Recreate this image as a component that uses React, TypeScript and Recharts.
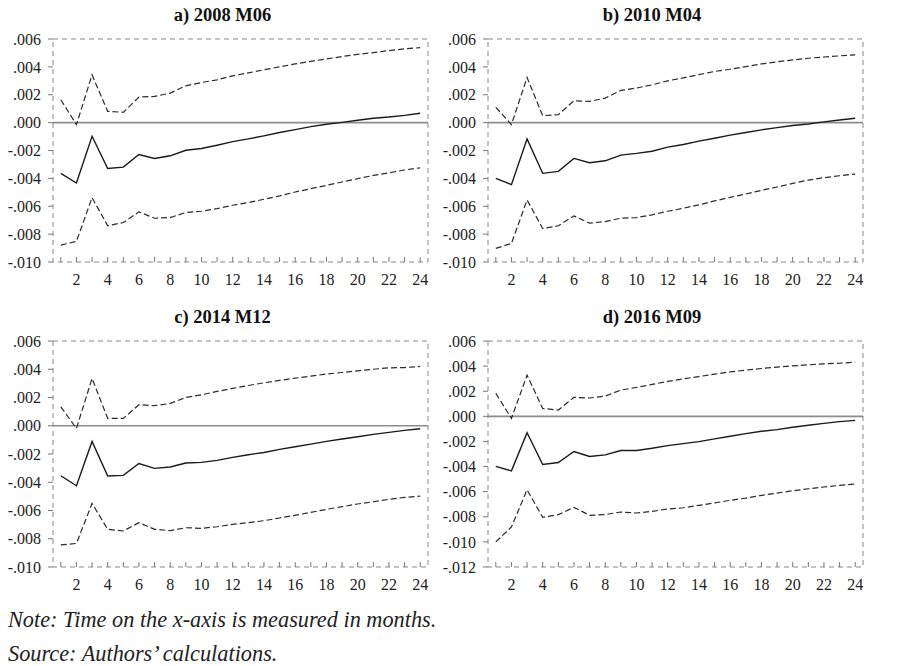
import React from 'react';
import { LineChart, Line, XAxis, YAxis, ReferenceLine, ReferenceArea } from 'recharts';

const months = [1, 2, 3, 4, 5, 6, 7, 8, 9, 10, 11, 12, 13, 14, 15, 16, 17, 18, 19, 20, 21, 22, 23, 24];

// a) 2008 M06
const aMid = [-0.00364, -0.00433, -0.00098, -0.00329, -0.00319, -0.00229, -0.00257, -0.00238, -0.00198, -0.00186, -0.00162, -0.00136, -0.00117, -0.00095, -0.00071, -0.0005, -0.00029, -0.00012, 0.00002, 0.00017, 0.00031, 0.0004, 0.00052, 0.00067];
const aUp = [0.00164, -0.00014, 0.00343, 0.00081, 0.00074, 0.00183, 0.00188, 0.00212, 0.00264, 0.00288, 0.00307, 0.00336, 0.00357, 0.00379, 0.004, 0.00421, 0.0044, 0.00457, 0.00474, 0.0049, 0.00502, 0.00517, 0.00529, 0.00538];
const aLo = [-0.00879, -0.00852, -0.00538, -0.0074, -0.00717, -0.0064, -0.00686, -0.00681, -0.00645, -0.00636, -0.00617, -0.00593, -0.00574, -0.0055, -0.00526, -0.00498, -0.00474, -0.0045, -0.00426, -0.00402, -0.00379, -0.0036, -0.0034, -0.00324];

// b) 2010 M04
const bMid = [-0.004, -0.00445, -0.00117, -0.00364, -0.0035, -0.00257, -0.00288, -0.00274, -0.00233, -0.00221, -0.00205, -0.00176, -0.00157, -0.00133, -0.00112, -0.0009, -0.00071, -0.00052, -0.00036, -0.00021, -0.0001, 0.00005, 0.00019, 0.00031];
const bUp = [0.0011, -0.00014, 0.00324, 0.0005, 0.00057, 0.00157, 0.00152, 0.00176, 0.00231, 0.00248, 0.00271, 0.003, 0.00321, 0.00345, 0.00367, 0.00383, 0.00402, 0.00421, 0.00436, 0.0045, 0.00462, 0.00471, 0.00479, 0.00486];
const bLo = [-0.00902, -0.00867, -0.00555, -0.0076, -0.0074, -0.00669, -0.00721, -0.0071, -0.00686, -0.00681, -0.00662, -0.00636, -0.00614, -0.0059, -0.00562, -0.00536, -0.00512, -0.00486, -0.00462, -0.00436, -0.00412, -0.00395, -0.00381, -0.00369];

// c) 2014 M12
const cMid = [-0.00354, -0.00425, -0.00111, -0.00356, -0.00351, -0.00267, -0.00302, -0.00292, -0.00264, -0.00259, -0.00245, -0.00224, -0.00205, -0.00189, -0.00167, -0.00149, -0.0013, -0.00111, -0.00094, -0.00078, -0.00061, -0.00047, -0.00033, -0.00021];
const cUp = [0.00134, -0.00019, 0.00335, 0.00052, 0.00052, 0.00149, 0.00142, 0.00158, 0.002, 0.00219, 0.00243, 0.00264, 0.00285, 0.00304, 0.00321, 0.00337, 0.00351, 0.00366, 0.00377, 0.00389, 0.004, 0.0041, 0.00412, 0.0042];
const cLo = [-0.00844, -0.00833, -0.0055, -0.00733, -0.00745, -0.00686, -0.00733, -0.00743, -0.00722, -0.00726, -0.00715, -0.00698, -0.00686, -0.00672, -0.00653, -0.00634, -0.00613, -0.00592, -0.00573, -0.00554, -0.00538, -0.00521, -0.00507, -0.00498];

// d) 2016 M09
const dMid = [-0.00399, -0.00434, -0.0013, -0.00384, -0.00368, -0.0028, -0.0032, -0.00307, -0.00272, -0.00272, -0.00254, -0.00233, -0.00217, -0.00201, -0.0018, -0.00159, -0.00138, -0.00119, -0.00106, -0.00087, -0.00071, -0.00056, -0.00042, -0.00032];
const dUp = [0.00183, -0.00016, 0.00328, 0.00063, 0.0005, 0.00151, 0.00146, 0.00161, 0.00209, 0.0023, 0.00254, 0.00278, 0.00299, 0.00317, 0.00336, 0.00354, 0.00368, 0.00381, 0.00392, 0.00402, 0.0041, 0.00418, 0.00423, 0.00431];
const dLo = [-0.01, -0.00881, -0.00585, -0.00804, -0.00783, -0.00725, -0.00788, -0.00783, -0.00762, -0.0077, -0.00757, -0.00738, -0.00728, -0.00709, -0.0069, -0.00669, -0.00651, -0.0063, -0.00611, -0.00593, -0.00577, -0.00563, -0.0055, -0.0054];

const yTicks10 = [0.006, 0.004, 0.002, 0, -0.002, -0.004, -0.006, -0.008, -0.01];
const yTicks12 = [0.006, 0.004, 0.002, 0, -0.002, -0.004, -0.006, -0.008, -0.01, -0.012];

const titles = ['a) 2008 M06', 'b) 2010 M04', 'c) 2014 M12', 'd) 2016 M09'];
const noteText = 'Note: Time on the x-axis is measured in months.';
const sourceText = 'Source: Authors\u2019 calculations.';

const SERIF = '"Liberation Serif", "Times New Roman", serif';
const TICK_FS = 16;

const fmtY = (v: number) => {
  const s = Math.abs(v).toFixed(3).slice(1);
  return v < -1e-9 ? '-' + s : s;
};

const XTick = (props: any) => {
  const { x, y, payload } = props;
  return (
    <g>
      <line x1={x} x2={x} y1={y} y2={y - 5} stroke="#777" strokeWidth={1} />
      {payload.value % 2 === 0 && (
        <text x={x} y={y + 23} textAnchor="middle" fontSize={TICK_FS} fontFamily={SERIF} fill="#222">
          {payload.value}
        </text>
      )}
    </g>
  );
};

type PanelProps = {
  title: string;
  mid: number[];
  up: number[];
  lo: number[];
  yTicks: number[];
  left: number;
  top: number;
  marginTop: number;
  plotH: number;
  titleX: number;
  titleBase: number;
};

const Panel = ({ title, mid, up, lo, yTicks, left, top, marginTop, plotH, titleX, titleBase }: PanelProps) => {
  const data = months.map((m, i) => ({ m, mid: mid[i], up: up[i], lo: lo[i] }));
  const yMax = yTicks[0];
  const yMin = yTicks[yTicks.length - 1];
  const h = marginTop + plotH + 30;
  return (
    <>
      <div
        style={{
          position: 'absolute',
          left: titleX - 150,
          width: 300,
          top: titleBase - 15.5,
          textAlign: 'center',
          fontFamily: SERIF,
          fontWeight: 'bold',
          fontSize: 18.5,
          lineHeight: '18.5px',
          color: '#111',
        }}
      >
        {title}
      </div>
      <div style={{ position: 'absolute', left, top }}>
        <LineChart width={440} height={h} data={data} margin={{ top: marginTop, right: 12, bottom: 0, left: 0 }}>
          <XAxis
            dataKey="m"
            type="number"
            domain={[0.5, 24.5]}
            ticks={months}
            interval={0}
            axisLine={false}
            tickLine={false}
            tickSize={0}
            tickMargin={0}
            tick={<XTick />}
            height={30}
            allowDataOverflow
          />
          <YAxis
            type="number"
            domain={[yMin, yMax]}
            ticks={yTicks}
            interval={0}
            width={53}
            axisLine={false}
            tickLine={{ stroke: '#777' }}
            tickSize={5}
            tickMargin={7}
            tickFormatter={fmtY}
            tick={{ fontSize: TICK_FS, fill: '#222', fontFamily: SERIF }}
            allowDataOverflow
          />
          <ReferenceArea
            x1={0.5}
            x2={24.5}
            y1={yMin}
            y2={yMax}
            fill="none"
            stroke="#888"
            strokeDasharray="5 4"
            strokeWidth={1}
          />
          <ReferenceLine y={0} stroke="#8c8c8c" strokeWidth={1.6} />
          <Line dataKey="up" stroke="#2a2a2a" strokeWidth={1.2} strokeDasharray="6 3" dot={false} isAnimationActive={false} />
          <Line dataKey="lo" stroke="#2a2a2a" strokeWidth={1.2} strokeDasharray="6 3" dot={false} isAnimationActive={false} />
          <Line dataKey="mid" stroke="#1a1a1a" strokeWidth={1.4} dot={false} isAnimationActive={false} />
        </LineChart>
      </div>
    </>
  );
};

const noteStyle: React.CSSProperties = {
  position: 'absolute',
  left: 8,
  fontFamily: SERIF,
  fontStyle: 'italic',
  fontSize: 22.3,
  lineHeight: '22.3px',
  color: '#222',
  whiteSpace: 'nowrap',
};

export default function App() {
  return (
    <div style={{ position: 'absolute', left: 0, top: 0, width: 900, height: 666, background: '#fff', overflow: 'hidden' }}>
      <Panel title={titles[0]} mid={aMid} up={aUp} lo={aLo} yTicks={yTicks10} left={0} top={0} marginTop={39} plotH={223} titleX={222.5} titleBase={21.7} />
      <Panel title={titles[1]} mid={bMid} up={bUp} lo={bLo} yTicks={yTicks10} left={435} top={0} marginTop={39} plotH={223} titleX={652} titleBase={21.7} />
      <Panel title={titles[2]} mid={cMid} up={cUp} lo={cLo} yTicks={yTicks10} left={0} top={300} marginTop={41} plotH={226} titleX={222.5} titleBase={323.3} />
      <Panel title={titles[3]} mid={dMid} up={dUp} lo={dLo} yTicks={yTicks12} left={435} top={300} marginTop={41} plotH={226} titleX={652} titleBase={323.3} />
      <div style={{ ...noteStyle, top: 609 }}>{noteText}</div>
      <div style={{ ...noteStyle, top: 642.5 }}>{sourceText}</div>
    </div>
  );
}
